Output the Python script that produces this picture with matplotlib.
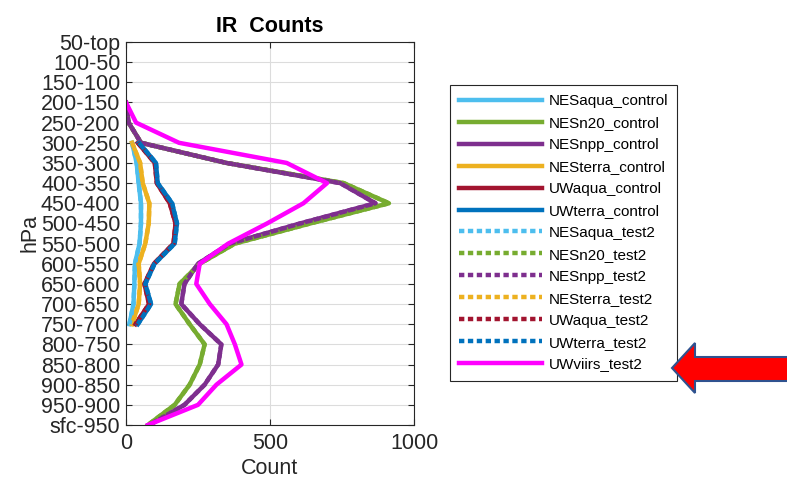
import numpy as np
import matplotlib
matplotlib.use('Agg')
import matplotlib.pyplot as plt
from matplotlib.patches import Polygon

plt.rcParams['font.family'] = ['Liberation Sans', 'DejaVu Sans']

# pressure layers, top of the plot first
layers = ['50-top', '100-50', '150-100', '200-150', '250-200', '300-250', '350-300',
          '400-350', '450-400', '500-450', '550-500', '600-550', '650-600', '700-650',
          '750-700', '800-750', '850-800', '900-850', '950-900', 'sfc-950']

# counts per layer (None = no data)
NESaqua = [None]*5 + [21, 37, 44, 52, 52, 47, 31, 29, 26, 12] + [None]*5
NESn20 = [None]*3 + [0, 9, 52, 349, 756, 913, 640, 378, 256, 186, 172, 221, 273, 256, 221, 169, 76]
NESnpp = [None]*3 + [0, 9, 52, 349, 744, 866, 605, 360, 250, 203, 192, 256, 331, 320, 273, 203, 81]
NESterra = [None]*5 + [21, 49, 58, 81, 79, 67, 44, 49, 44, 21] + [None]*5
UWaqua = [None]*5 + [41, 100, 107, 152, 172, 165, 97, 64, 80, 33] + [None]*5
UWterra = [None]*5 + [45, 104, 110, 160, 177, 169, 99, 67, 87, 41] + [None]*5
UWviirs = [None]*3 + [0, 35, 184, 558, 698, 616, 490, 355, 256, 244, 291, 349, 378, 401, 314, 250, 76]

names = ['NESaqua', 'NESn20', 'NESnpp', 'NESterra', 'UWaqua', 'UWterra']
series = [NESaqua, NESn20, NESnpp, NESterra, UWaqua, UWterra]
colors = ['#4DBEEE', '#77AC30', '#7E2F8E', '#EDB120', '#A2142F', '#0072BD']

y = np.arange(1, len(layers) + 1)

def arr(v):
    return np.array([np.nan if a is None else a for a in v], dtype=float)

fig = plt.figure(figsize=(7.87, 4.82), dpi=100)
ax = fig.add_axes([126/787, 1-425/482, 288/787, 383/482])

for n, s, c in zip(names, series, colors):
    ax.plot(arr(s), y, color=c, lw=3.2, label=n + '_control')
for n, s, c in zip(names, series, colors):
    ax.plot(arr(s), y, color=c, lw=3.2, ls=(0, (1.2, 0.8)), label=n + '_test2')
ax.plot(arr(UWviirs), y, color='#FF00FF', lw=3.2, label='UWviirs_test2')

ax.set_xlim(0, 1000)
ax.set_ylim(len(layers), 1)
ax.set_yticks(y)
ax.set_yticklabels(layers)
ax.set_xticks([0, 500, 1000])
ax.grid(True, color='#dcdcdc', lw=0.8)
ax.set_axisbelow(True)
ax.tick_params(direction='in', right=True, top=True, labelsize=15.5, colors='#262626',
               length=4)
ax.tick_params(axis='y', pad=4)
ax.tick_params(axis='x', pad=6)
for sp in ax.spines.values():
    sp.set_color('#262626')
ax.set_title('IR  Counts', fontsize=15.5, fontweight='bold', pad=7)
ax.set_xlabel('Count', fontsize=15.5, color='#262626', labelpad=3)
ax.set_ylabel('hPa', fontsize=15.5, color='#262626', labelpad=0)

leg = ax.legend(loc='upper left', bbox_to_anchor=(450/787, 1-85/482),
                bbox_transform=fig.transFigure, fontsize=11, handlelength=5.4,
                labelspacing=0.52, borderpad=0.6, handletextpad=0.45,
                borderaxespad=0, fancybox=False, framealpha=1)
leg.get_frame().set_edgecolor('#262626')
leg.get_frame().set_linewidth(0.8)

# red arrow pointing at the UWviirs entry
px = [(672, 368), (695, 343), (695, 357), (790, 357), (790, 381), (695, 381), (695, 393)]
arrow = Polygon([(a/787, 1-b/482) for a, b in px], closed=True, transform=fig.transFigure,
                facecolor='#FF0000', edgecolor='#2F528F', lw=1.5)
fig.patches.append(arrow)

fig.savefig('out.png', dpi=100)
